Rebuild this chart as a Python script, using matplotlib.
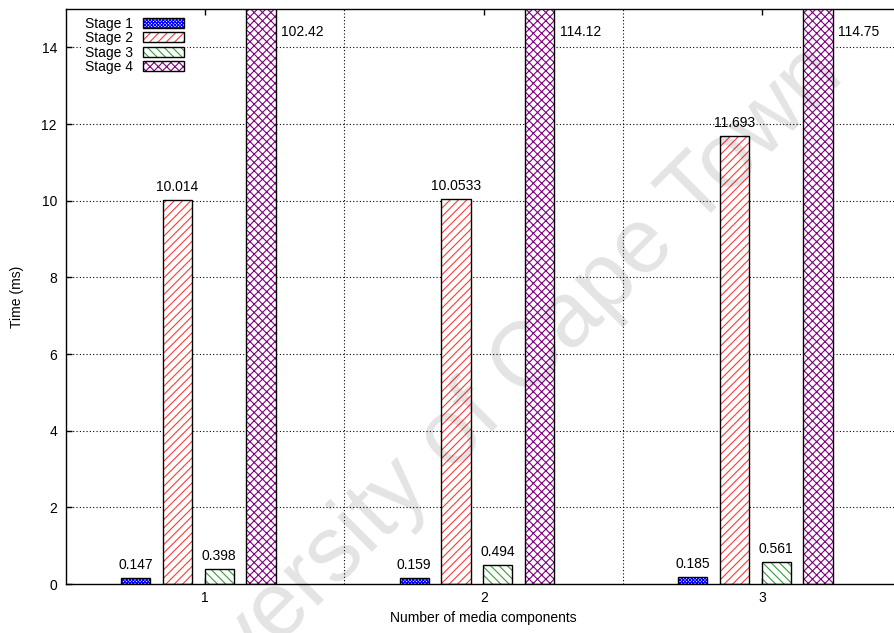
import numpy as np
import matplotlib
matplotlib.use("Agg")
import matplotlib.pyplot as plt
from matplotlib.patches import Patch
from matplotlib.legend_handler import HandlerTuple

plt.rcParams['font.family'] = ['Liberation Sans', 'DejaVu Sans']
plt.rcParams['hatch.linewidth'] = 0.8

# ---- data ----
groups = [1, 2, 3]
group_labels = ["1", "2", "3"]
stage_names = ["Stage 1", "Stage 2", "Stage 3", "Stage 4"]
stage1 = [0.147, 0.159, 0.185]
stage2 = [10.014, 10.0533, 11.693]
stage3 = [0.398, 0.494, 0.561]
stage4 = [102.42, 114.12, 114.75]
stage1_labels = ["0.147", "0.159", "0.185"]
stage2_labels = ["10.014", "10.0533", "11.693"]
stage3_labels = ["0.398", "0.494", "0.561"]
stage4_labels = ["102.42", "114.12", "114.75"]
yticks = [0, 2, 4, 6, 8, 10, 12, 14]

series = [stage1, stage2, stage3, stage4]
series_labels = [stage1_labels, stage2_labels, stage3_labels, stage4_labels]
colors = ["#0000ff", "#ff3a3a", "#3a9a3a", "#800080"]
hatches = ["xxxxxxxxxx", "////", "\\\\\\\\", "xxxx"]
offsets = [-0.25, -0.10, 0.05, 0.20]
width = 0.105
ymax = 15

fig = plt.figure(figsize=(8.94, 6.33), dpi=100)
ax = fig.add_axes([66 / 894, 49 / 633, 835.5 / 894, 575 / 633])
ax.set_xlim(0.5, 3.5)
ax.set_ylim(0, ymax)

# grid
dot = (0, (1, 2))
for y in yticks[1:]:
    ax.axhline(y, color='black', lw=0.8, ls=dot, zorder=1)
for xv in [1.5, 2.5]:
    ax.axvline(xv, color='black', lw=0.8, ls=dot, zorder=1)

handles = []
for i in range(4):
    xs = np.array(groups) + offsets[i]
    vals = series[i]
    ax.bar(xs, vals, width, color='white', edgecolor=colors[i], hatch=hatches[i],
           linewidth=0, zorder=2)
    ax.bar(xs, vals, width, fill=False, edgecolor='black', linewidth=1.0, zorder=3)
    for x, v, lab in zip(xs, vals, series_labels[i]):
        if v < ymax:
            ax.annotate(lab, (x, v), xytext=(0, 9.4), textcoords='offset points',
                        ha='center', va='center', fontsize=10, zorder=4)
        else:
            ax.annotate(lab, (x + width / 2, 14.4), xytext=(4, 0), textcoords='offset points',
                        ha='left', va='center', fontsize=10, zorder=4)
    handles.append((Patch(facecolor='white', edgecolor=colors[i], hatch=hatches[i], lw=0),
                    Patch(fill=False, edgecolor='black', lw=1.0)))

leg = ax.legend(handles, stage_names, handler_map={tuple: HandlerTuple(ndivide=1)},
                loc='upper left', bbox_to_anchor=(82 / 894, 1 - 14 / 633),
                bbox_transform=fig.transFigure, borderaxespad=0, borderpad=0.2,
                markerfirst=False, handlelength=3.0, handleheight=0.7,
                handletextpad=0.7, labelspacing=0.03, fontsize=10,
                frameon=True, fancybox=False, framealpha=1)
leg.get_frame().set_edgecolor('none')
leg.get_frame().set_facecolor('white')
leg.set_zorder(5)

ax.set_xticks(groups)
ax.set_xticklabels(group_labels)
ax.set_yticks(yticks)
ax.tick_params(direction='in', length=4.3, width=1, top=True, right=True,
               labelsize=10, colors='black')
ax.tick_params(axis='y', pad=6.5)
ax.tick_params(axis='x', pad=5)
for s in ax.spines.values():
    s.set_linewidth(1.0)

ax.set_xlabel("Number of media components", fontsize=10)
ax.xaxis.set_label_coords(0.5, -34 / 575)
ax.xaxis.label.set_va('center')
ax.set_ylabel("Time (ms)", fontsize=10)
ax.yaxis.set_label_coords(-49 / 835.5, 0.5)
ax.yaxis.label.set_va('center')

# watermark
fig.text(480 / 894, 1 - 410 / 633, "University of Cape Town", fontsize=66,
         rotation=45, rotation_mode='anchor', ha='center', va='center',
         color='black', alpha=0.11, zorder=10)

fig.savefig("out.png", dpi=100)
